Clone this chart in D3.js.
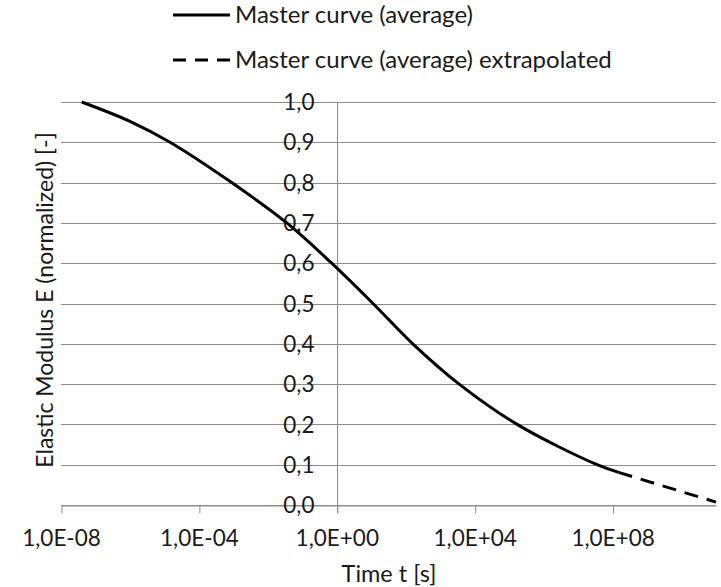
<!DOCTYPE html>
<html>
<head>
<meta charset="utf-8">
<script src="https://cdn.jsdelivr.net/npm/d3@7"></script>
<style>
  body { margin: 0; background: #fff; }
  svg { display: block; }
  text { font-family: Lato, "Open Sans", sans-serif; fill: #1a1a1a; }
</style>
</head>
<body>
<div id="chart"></div>
<script>
// time [s] and normalized modulus
const timeMeasured = [4.0e-8, 1e-6, 1.45e-5, 8.9e-4, 3.55e-2, 0.71, 11.2, 160, 3550, 1.7e5, 3.55e7, 1.5e8];
const modulusMeasured = [1.0, 0.952, 0.9, 0.8, 0.7, 0.6, 0.5, 0.4, 0.3, 0.2, 0.1, 0.081];
const timeExtrap = [1.5e8, 1e11];
const modulusExtrap = [0.081, 0.007];

const xTicks = [1e-8, 1e-4, 1, 1e4, 1e8];
const yTicks = [0, 0.1, 0.2, 0.3, 0.4, 0.5, 0.6, 0.7, 0.8, 0.9, 1.0];
const legendLabels = ['Master curve (average)', 'Master curve (average) extrapolated'];

const width = 721, height = 587;
const margin = { top: 102, right: 5, bottom: 82, left: 61 };
const tickFont = '22.5px';

const svg = d3.select('#chart').append('svg')
  .attr('width', width)
  .attr('height', height);

const x = d3.scaleLog().domain([1e-8, 1e11]).range([margin.left, width - margin.right]);
const y = d3.scaleLinear().domain([0, 1]).range([height - margin.bottom, margin.top]);

const commaFmt = v => d3.format('.1f')(v).replace('.', ',');
const expFmt = v => {
  const e = Math.round(Math.log10(v));
  return '1,0E' + (e < 0 ? '-' : '+') + String(Math.abs(e)).padStart(2, '0');
};

// horizontal gridlines
svg.append('g')
  .selectAll('line')
  .data(yTicks)
  .join('line')
  .attr('x1', x.range()[0])
  .attr('x2', x.range()[1])
  .attr('y1', d => Math.round(y(d)) + 0.5)
  .attr('y2', d => Math.round(y(d)) + 0.5)
  .attr('stroke', '#8c8c8c')
  .attr('stroke-width', 1);

// x axis (ticks only below)
const xAxis = svg.append('g')
  .attr('transform', `translate(0,${Math.round(y(0)) + 0.5})`)
  .call(d3.axisBottom(x).tickValues(xTicks).tickFormat(expFmt).tickSize(8).tickPadding(0).tickSizeOuter(0));
xAxis.select('.domain').attr('stroke', '#8c8c8c');
xAxis.selectAll('.tick line').attr('stroke', '#8c8c8c').attr('transform', 'translate(0.5,0)');
xAxis.selectAll('.tick text')
  .attr('y', 40)
  .attr('dy', null)
  .style('font-family', 'Lato, sans-serif')
  .style('font-size', tickFont)
  .attr('fill', '#1a1a1a');

// y axis drawn at t = 1 s
const yAxisX = Math.round(x(1)) + 0.5;
svg.append('line')
  .attr('x1', yAxisX).attr('x2', yAxisX)
  .attr('y1', y(1)).attr('y2', y(0) + 8)
  .attr('stroke', '#8c8c8c');

svg.append('g')
  .selectAll('text')
  .data(yTicks)
  .join('text')
  .attr('x', yAxisX - 23)
  .attr('y', d => y(d))
  .attr('dy', '0.36em')
  .attr('text-anchor', 'end')
  .style('font-size', tickFont)
  .text(commaFmt);

// curves
const line = d3.line()
  .x(d => x(d[0]))
  .y(d => y(d[1]))
  .curve(d3.curveCatmullRom.alpha(0.5));

svg.append('path')
  .datum(d3.zip(timeMeasured, modulusMeasured))
  .attr('d', line)
  .attr('fill', 'none')
  .attr('stroke', '#000')
  .attr('stroke-width', 3);

svg.append('path')
  .datum(d3.zip(timeExtrap, modulusExtrap))
  .attr('d', d3.line().x(d => x(d[0])).y(d => y(d[1])))
  .attr('fill', 'none')
  .attr('stroke', '#000')
  .attr('stroke-width', 3)
  .attr('stroke-dasharray', '14,9');

// axis titles
svg.append('text')
  .attr('x', 389)
  .attr('y', 582)
  .attr('text-anchor', 'middle')
  .style('font-size', '23.5px')
  .text('Time t [s]');

svg.append('text')
  .attr('transform', 'translate(53,300) rotate(-90)')
  .attr('text-anchor', 'middle')
  .style('font-size', '23px')
  .text('Elastic Modulus E (normalized) [-]');

// legend
const legendItems = svg.append('g')
  .selectAll('g')
  .data(legendLabels)
  .join('g')
  .attr('transform', (d, i) => `translate(173,${15 + i * 45})`);

legendItems.append('line')
  .attr('x1', 0).attr('x2', 57)
  .attr('stroke', '#000')
  .attr('stroke-width', 3)
  .attr('stroke-dasharray', (d, i) => i === 0 ? null : '13,9');

legendItems.append('text')
  .attr('x', 62)
  .attr('y', 8)
  .style('font-size', '24px')
  .text(d => d);
</script>
</body>
</html>
